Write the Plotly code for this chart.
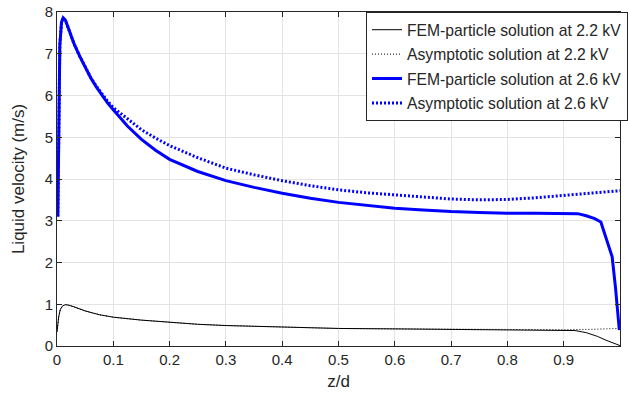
import plotly.graph_objects as go

# z/d positions and liquid velocity (m/s) for each solution
z_fem_26 = [0.0015, 0.003, 0.005, 0.008, 0.011, 0.015, 0.02, 0.03, 0.04, 0.05, 0.06,
            0.07, 0.08, 0.09, 0.1, 0.125, 0.15, 0.175, 0.2, 0.25, 0.3, 0.35, 0.4, 0.45,
            0.5, 0.55, 0.6, 0.65, 0.7, 0.75, 0.8, 0.85, 0.9, 0.925, 0.94, 0.955, 0.966,
            0.976, 0.986, 0.992, 0.9988]
v_fem_26 = [3.1, 5.5, 7.2, 7.75, 7.86, 7.8, 7.6, 7.25, 6.95, 6.68, 6.42,
            6.2, 6.0, 5.82, 5.66, 5.27, 4.95, 4.69, 4.47, 4.18, 3.96, 3.8, 3.66, 3.54,
            3.44, 3.37, 3.3, 3.26, 3.22, 3.2, 3.18, 3.18, 3.18, 3.17, 3.12, 3.05, 2.97,
            2.58, 2.14, 1.4, 0.38]

z_asy_26 = [0.0015, 0.003, 0.005, 0.008, 0.011, 0.015, 0.02, 0.03, 0.04, 0.05, 0.06,
            0.07, 0.08, 0.09, 0.1, 0.125, 0.15, 0.175, 0.2, 0.25, 0.3, 0.35, 0.4, 0.45,
            0.5, 0.55, 0.6, 0.65, 0.7, 0.75, 0.8, 0.85, 0.9, 0.95, 1.0]
v_asy_26 = [3.1, 5.5, 7.2, 7.75, 7.86, 7.8, 7.6, 7.25, 6.95, 6.68, 6.43,
            6.22, 6.03, 5.86, 5.71, 5.45, 5.18, 4.98, 4.8, 4.51, 4.26, 4.1, 3.96, 3.84,
            3.74, 3.67, 3.62, 3.56, 3.52, 3.5, 3.51, 3.55, 3.61, 3.66, 3.72]

z_fem_22 = [0.0, 0.003, 0.006, 0.01, 0.015, 0.02, 0.03, 0.05, 0.075, 0.1, 0.15, 0.2,
            0.25, 0.3, 0.4, 0.5, 0.6, 0.7, 0.8, 0.9, 0.92, 0.94, 0.96, 0.975, 0.99, 1.0]
v_fem_22 = [0.34, 0.7, 0.88, 0.96, 0.99, 0.98, 0.94, 0.84, 0.75, 0.69, 0.62, 0.57,
            0.52, 0.49, 0.45, 0.42, 0.41, 0.40, 0.39, 0.39, 0.37, 0.32, 0.23, 0.14, 0.06, 0.01]

z_asy_22 = [0.0, 0.003, 0.006, 0.01, 0.015, 0.02, 0.03, 0.05, 0.075, 0.1, 0.15, 0.2,
            0.25, 0.3, 0.4, 0.5, 0.6, 0.7, 0.8, 0.9, 0.95, 1.0]
v_asy_22 = [0.34, 0.7, 0.88, 0.96, 0.99, 0.98, 0.94, 0.84, 0.75, 0.69, 0.62, 0.57,
            0.52, 0.49, 0.45, 0.42, 0.41, 0.40, 0.39, 0.39, 0.40, 0.42]

x_ticks = [0, 0.1, 0.2, 0.3, 0.4, 0.5, 0.6, 0.7, 0.8, 0.9]
x_tick_text = ["0", "0.1", "0.2", "0.3", "0.4", "0.5", "0.6", "0.7", "0.8", "0.9"]
y_ticks = [0, 1, 2, 3, 4, 5, 6, 7, 8]

FONT = "Liberation Sans, Arial, sans-serif"
INK = "#262626"

fig = go.Figure()
fig.add_trace(go.Scatter(x=z_fem_22, y=v_fem_22, mode="lines", legendgroup="a",
                         name="FEM-particle solution at 2.2 kV",
                         line=dict(color="black", width=1)))
fig.add_trace(go.Scatter(x=z_asy_22, y=v_asy_22, mode="lines", legendgroup="b",
                         name="Asymptotic solution at 2.2 kV",
                         line=dict(color="black", width=1, dash="1px,2px")))
fig.add_trace(go.Scatter(x=z_fem_26, y=v_fem_26, mode="lines", legendgroup="c",
                         name="FEM-particle solution at 2.6 kV",
                         line=dict(color="#0000ff", width=3)))
fig.add_trace(go.Scatter(x=z_asy_26, y=v_asy_26, mode="lines", legendgroup="d",
                         name="Asymptotic solution at 2.6 kV",
                         line=dict(color="#0000ff", width=3, dash="2px,2px")))

axis_common = dict(
    showgrid=True, gridcolor="#e3e3e3", gridwidth=1,
    showline=True, linecolor=INK, linewidth=1, mirror="ticks",
    ticks="inside", ticklen=5, tickcolor=INK,
    tickfont=dict(family=FONT, size=15, color=INK),
    zeroline=False,
)

fig.update_xaxes(range=[0, 1], tickvals=x_ticks, ticktext=x_tick_text,
                 title=dict(text="z/d", font=dict(family=FONT, size=17, color=INK),
                            standoff=8),
                 **axis_common)
fig.update_yaxes(range=[0, 8], tickvals=y_ticks,
                 title=dict(text="Liquid velocity (m/s)",
                            font=dict(family=FONT, size=17, color=INK), standoff=15),
                 **axis_common)

fig.update_layout(
    width=628, height=398,
    margin=dict(l=57, r=0, t=12, b=52),
    paper_bgcolor="white", plot_bgcolor="white",
    font=dict(family=FONT, color=INK),
    legend=dict(x=1.015, y=1, xanchor="right", yanchor="top",
                bgcolor="white", bordercolor=INK, borderwidth=1,
                font=dict(family=FONT, size=15.7, color=INK),
                itemwidth=30, tracegroupgap=1, traceorder="grouped"),
    showlegend=True,
)

fig.write_html("out.html")
